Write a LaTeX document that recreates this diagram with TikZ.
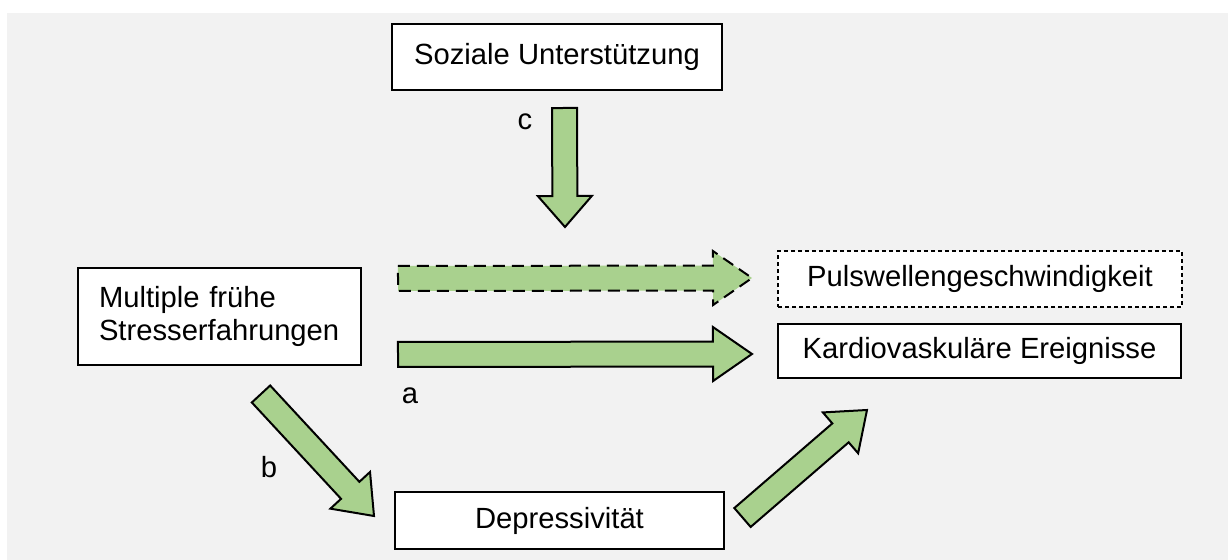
\documentclass[tikz,border=0pt]{standalone}
\usepackage{fontspec}
\setmainfont{Liberation Sans}
\usetikzlibrary{calc}
\definecolor{bggray}{HTML}{F2F2F2}
\definecolor{arrowgreen}{HTML}{A9D18E}
\newcommand\blockarrow[4]{%
  \coordinate (hb) at ($(#2)!#3!(#1)$);
  \draw[#4] ($(#1)!6.25pt!90:(#2)$) -- ($(hb)!6.25pt!-90:(#1)$) -- ($(hb)!13.5pt!-90:(#1)$) -- (#2)
    -- ($(hb)!13.5pt!90:(#1)$) -- ($(hb)!6.25pt!90:(#1)$) -- ($(#1)!6.25pt!-90:(#2)$) -- cycle;
}
\tikzset{
  box/.style={draw=black, line width=0.75pt, fill=white, inner sep=0pt, font=\fontsize{14.6}{16.5}\selectfont},
  dashbox/.style={box, dash pattern=on 2pt off 1.5pt},
  garrow/.style={fill=arrowgreen, draw=black, line width=1pt, line join=miter},
  gdash/.style={garrow, dash pattern=on 6pt off 3.5pt},
  lbl/.style={font=\fontsize{14.6}{16.5}\selectfont, inner sep=0pt}
}
\begin{document}
\begin{tikzpicture}[x=0.5pt,y=-0.5pt]
\useasboundingbox (0,0) rectangle (1228,560);
\fill[bggray] (7,13) rectangle (1228,560);

\node[box, minimum width=165pt, minimum height=33pt] (soz) at (557,57) {Soziale Unterstützung};
\node[box, minimum width=141.5pt, minimum height=48.5pt, text width=120.5pt, align=left, inner xsep=10.5pt] (msf) at (219.5,316.5) {Multiple frühe\\Stresserfahrungen};
\node[dashbox, minimum width=202pt, minimum height=28pt] (pwv) at (980,279) {Pulswellengeschwindigkeit};
\node[box, minimum width=201.5pt, minimum height=27pt] (kve) at (979.5,351) {Kardiovaskuläre Ereignisse};
\node[box, minimum width=164.5pt, minimum height=28.5pt] (dep) at (559.5,520.5) {Depressivität};

\coordinate (c1) at (564.5,108); \coordinate (c2) at (565,227);
\coordinate (p1) at (398,278.5); \coordinate (p2) at (752,278);
\coordinate (a1) at (398,354.5); \coordinate (a2) at (752,354);
\coordinate (b1) at (261,394);   \coordinate (b2) at (374,516);
\coordinate (d1) at (742.5,517.5); \coordinate (d2) at (867,410);

\blockarrow{c1}{c2}{15.5pt}{garrow}
\blockarrow{p1}{p2}{19.5pt}{gdash}
\blockarrow{a1}{a2}{19.5pt}{garrow}
\blockarrow{b1}{b2}{17.5pt}{garrow}
\blockarrow{d1}{d2}{17.5pt}{garrow}

\node[lbl] (la) at (410,396) {a};
\node[lbl] (lb) at (269,467) {b};
\node[lbl] (lc) at (525,122) {c};
\end{tikzpicture}
\end{document}
